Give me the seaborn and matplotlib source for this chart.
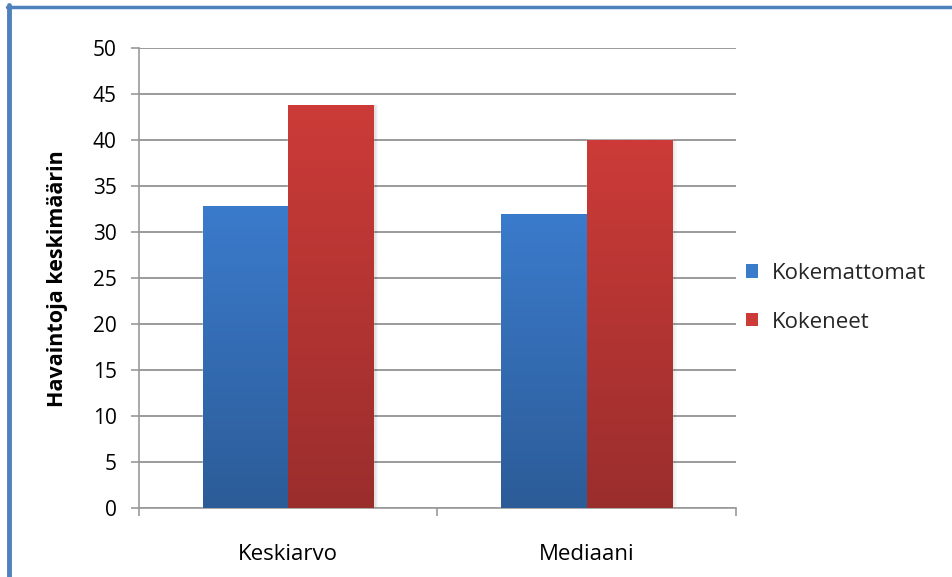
import numpy as np
import pandas as pd
import matplotlib
matplotlib.use("Agg")
import matplotlib.pyplot as plt
from matplotlib.colors import LinearSegmentedColormap
from matplotlib.patches import Rectangle
from matplotlib.lines import Line2D
import seaborn as sns

categories = ["Keskiarvo", "Mediaani"]
groups = ["Kokemattomat", "Kokeneet"]
kokemattomat = [32.9, 32.0]
kokeneet = [43.9, 40.0]
y_ticks = [0, 5, 10, 15, 20, 25, 30, 35, 40, 45, 50]
y_label = "Havaintoja keskimäärin"

df = pd.DataFrame({
    "Mittari": categories * 2,
    "Ryhmä": [groups[0]] * len(categories) + [groups[1]] * len(categories),
    "Arvo": kokemattomat + kokeneet,
})

sns.set_theme(style="white")
plt.rcParams["font.family"] = ["Open Sans", "DejaVu Sans"]

top_cols = {"Kokemattomat": "#3B7BCC", "Kokeneet": "#CC3B38"}
bot_cols = {"Kokemattomat": "#2C5C98", "Kokeneet": "#9A2E2D"}

fig = plt.figure(figsize=(9.52, 5.77), dpi=100)
ax = fig.add_axes([0.146, 0.119, 0.627, 0.797])

sns.barplot(data=df, x="Mittari", y="Arvo", hue="Ryhmä", hue_order=groups,
            palette=top_cols, saturation=1, width=0.571, ax=ax, legend=False,
            zorder=3)

# vertical gradient fill + soft shadow on every bar
for container, g in zip(ax.containers, groups):
    cmap = LinearSegmentedColormap.from_list(g, [bot_cols[g], top_cols[g]])
    grad = np.linspace(0, 1, 256).reshape(-1, 1)
    for bar in container:
        x0, w, h = bar.get_x(), bar.get_width(), bar.get_height()
        for k in range(4):
            sh = Rectangle((x0 + 0.004 * (k + 1), 0), w, h,
                           facecolor="black", alpha=0.035, edgecolor="none", zorder=2)
            ax.add_patch(sh)
        im = ax.imshow(grad, cmap=cmap, origin="lower", aspect="auto",
                       extent=(x0, x0 + w, 0, h), zorder=3.5, interpolation="bilinear")
        im.set_clip_path(bar)

ax.set_xlim(-0.5, 1.5)
ax.set_ylim(0, 50)
ax.set_yticks(y_ticks)
ax.set_yticklabels([str(t) for t in y_ticks])
ax.yaxis.grid(True, color="#9A9A9A", linewidth=1.4, zorder=0)
ax.set_axisbelow(True)

for s in ["top", "right"]:
    ax.spines[s].set_visible(False)
for s in ["left", "bottom"]:
    ax.spines[s].set_color("#9A9A9A")
    ax.spines[s].set_linewidth(1.2)

ax.set_xlabel("")
ax.set_ylabel(y_label, fontsize=15.5, fontweight="bold", color="black", labelpad=18)

ax.tick_params(axis="y", which="major", left=True, length=6, width=1.2,
               color="#9A9A9A", labelsize=15, labelcolor="black", pad=10)
ax.tick_params(axis="x", which="major", bottom=False, labelsize=16,
               labelcolor="black", pad=20)
ax.set_xticks([-0.5, 0.5, 1.5], minor=True)
ax.tick_params(axis="x", which="minor", bottom=True, length=6, width=1.2,
               color="#9A9A9A")

handles = [Rectangle((0, 0), 1, 1, facecolor=top_cols[g], edgecolor="none")
           for g in groups]
fig.legend(handles, groups, loc="center left", bbox_to_anchor=(0.772, 0.484),
           frameon=False, fontsize=16, handlelength=0.55, handleheight=0.55,
           handletextpad=0.6, labelspacing=1.25, borderpad=0)

# blue frame around the chart area
fig.add_artist(Line2D([0.0095, 0.0095], [0, 0.991], transform=fig.transFigure,
                      color="#4F81BD", linewidth=3.5))
fig.add_artist(Line2D([0.0075, 1.0], [0.9885, 0.9885], transform=fig.transFigure,
                      color="#4F81BD", linewidth=2.5))

fig.savefig("out.png", dpi=100, facecolor="white")
